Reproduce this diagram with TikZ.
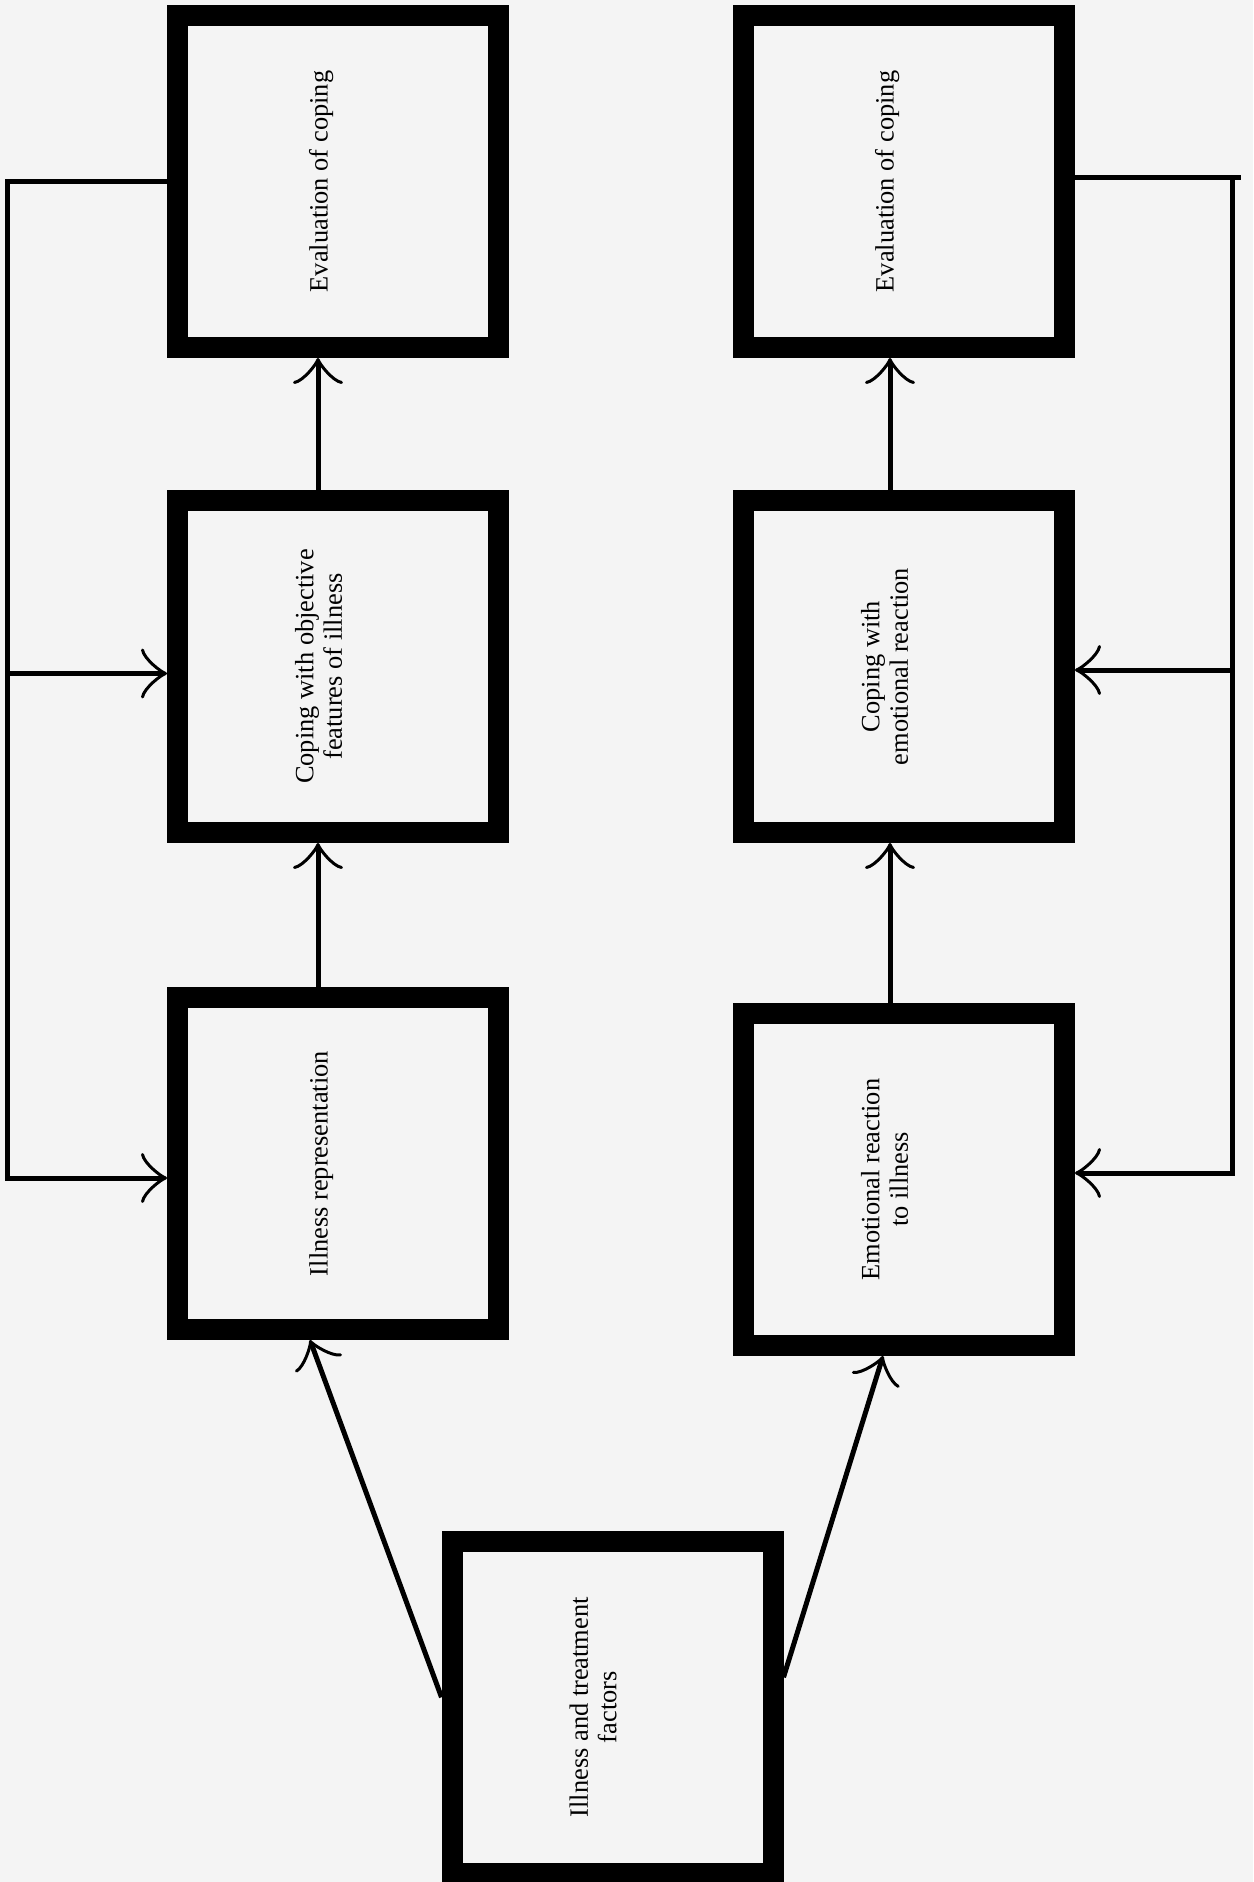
\documentclass[tikz,border=0pt]{standalone}
\usepackage{graphicx}
\usepackage{fontspec}
\setmainfont{Liberation Serif}
\usepackage{tikz}
\usetikzlibrary{arrows.meta,positioning,calc}
\definecolor{paper}{RGB}{244,244,244}
\newcommand{\vlabel}[1]{\rotatebox{90}{\begin{tabular}{@{}c@{}}#1\end{tabular}}\hspace*{16pt}}

\begin{document}
\begin{tikzpicture}[
  box/.style={draw,line width=10.5pt,fill=paper,inner sep=0pt,
    minimum width=160.5pt,minimum height=166pt,
    font=\fontsize{13.2pt}{14.2pt}\selectfont},
  wire/.style={line width=2.5pt},
  flow/.style={wire,-{Classical TikZ Rightarrow[length=13pt,width=25pt,line width=1.5pt]}}
]
\path[fill=paper,use as bounding box] (-169pt,90.75pt) rectangle (457.5pt,-850.25pt);

\node[box] (evalobj) {\vlabel{Evaluation of coping}};
\node[box,below=66pt of evalobj] (copeobj) {\vlabel{Coping with objective\\features of illness}};
\node[box,below=72pt of copeobj] (illrep) {\vlabel{Illness representation}};

\node[box,right=112pt of evalobj] (evalemo) {\vlabel{Evaluation of coping}};
\node[box,below=66pt of evalemo] (copeemo) {\vlabel{Coping with\\emotional reaction}};
\node[box,below=80pt of copeemo] (emoreact) {\vlabel{Emotional reaction\\to illness}};

\coordinate (mid) at ($(illrep.south)!0.485!(emoreact.south)$);
\node[box,below=91.5pt of mid] (factors) {\vlabel{Illness and treatment\\factors}};

\draw[flow] ([xshift=-10pt]copeobj.north) -- ([xshift=-10pt]evalobj.south);
\draw[flow] ([xshift=-10pt]illrep.north) -- ([xshift=-10pt]copeobj.south);
\draw[flow] ([xshift=-7pt]copeemo.north) -- ([xshift=-7pt]evalemo.south);
\draw[flow] ([xshift=-7pt]emoreact.north) -- ([xshift=-7pt]copeemo.south);

\draw[flow] ([yshift=5pt]factors.west) -- ([xshift=-14pt]illrep.south);
\draw[flow] ([yshift=15pt]factors.east) -- ([xshift=-10.5pt]emoreact.south);

\coordinate (copeobjin) at ([yshift=-3.5pt]copeobj.west);
\coordinate (illrepin) at ([yshift=-7.25pt]illrep.west);
\draw[flow] (evalobj.west) -- ++(-79.5pt,0) coordinate (lrail) |- (illrepin);
\draw[flow] (lrail |- copeobjin) -- (copeobjin);

\coordinate (copeemoin) at ([yshift=-1.75pt]copeemo.east);
\coordinate (emoreactin) at ([yshift=3.25pt]emoreact.east);
\draw[wire] ([yshift=1.75pt]evalemo.east) -- ++(83pt,0) coordinate (rtick);
\draw[flow] ([xshift=-4.5pt]rtick) coordinate (rrail) |- (emoreactin);
\draw[flow] (rrail |- copeemoin) -- (copeemoin);
\end{tikzpicture}
\end{document}
